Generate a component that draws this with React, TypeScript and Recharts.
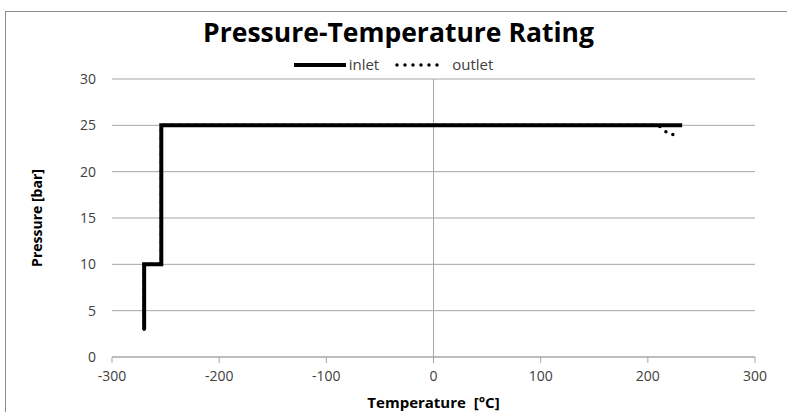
import React from 'react';
import { LineChart, Line, XAxis, YAxis, CartesianGrid, ReferenceLine, Legend } from 'recharts';

const inletTemp = [-270, -270, -254, -254, 232];
const inletPressure = [3, 10, 10, 25, 25];
const outletTemp = [-270, -270, -254, -254, 210, 220, 230];
const outletPressure = [3, 10, 10, 25, 25, 24, 24];
const xTicks = [-300, -200, -100, 0, 100, 200, 300];
const yTicks = [0, 5, 10, 15, 20, 25, 30];

const inlet = inletTemp.map((t, i) => ({ t, p: inletPressure[i] }));
const outlet = outletTemp.map((t, i) => ({ t, p: outletPressure[i] }));

const FONT = '"Open Sans", Calibri, sans-serif';

const LegendContent = () => (
  <div style={{ display: 'flex', justifyContent: 'center', alignItems: 'center', fontFamily: FONT, fontSize: 15, color: '#404040', height: 19, lineHeight: '19px' }}>
    <svg width={52} height={10} style={{ marginRight: 3 }}>
      <line x1={0} y1={5} x2={52} y2={5} stroke="#000" strokeWidth={4} />
    </svg>
    <span style={{ marginRight: 16 }}>inlet</span>
    <svg width={48} height={10} style={{ marginRight: 9 }}>
      <line x1={2} y1={5} x2={48} y2={5} stroke="#000" strokeWidth={3.5} strokeDasharray="0 8" strokeLinecap="round" />
    </svg>
    <span>outlet</span>
  </div>
);

export default function App() {
  return (
    <div style={{ position: 'absolute', left: 0, top: 0, width: 787, height: 412, background: '#fff', overflow: 'hidden' }}>
      <div style={{ position: 'absolute', left: 5, top: 11, width: 820, height: 440, border: '1px solid #8c8c8c' }} />
      <div style={{ position: 'absolute', left: 0, top: 14, width: 797, textAlign: 'center', fontFamily: FONT, fontWeight: 700, fontSize: 26.5, color: '#000', lineHeight: '36px' }}>
        Pressure-Temperature Rating
      </div>
      <div style={{ position: 'absolute', left: 0, top: 0 }}>
        <LineChart width={787} height={412} margin={{ top: 60, right: 32, bottom: 0, left: 12 }}>
          <CartesianGrid horizontal vertical={false} stroke="#a6a6a6" strokeWidth={1} />
          <XAxis
            type="number"
            dataKey="t"
            domain={[-300, 300]}
            ticks={xTicks}
            allowDataOverflow
            height={55}
            stroke="#a6a6a6"
            tickSize={6}
            tickMargin={8}
            tick={{ fill: '#404040', fontSize: 14, fontFamily: FONT }}
            label={{ value: 'Temperature\u00a0 [°C]', position: 'insideBottom', offset: 4, style: { fontFamily: FONT, fontWeight: 700, fontSize: 15, fill: '#000' } }}
          />
          <YAxis
            type="number"
            dataKey="p"
            domain={[0, 30]}
            ticks={yTicks}
            width={100}
            axisLine={false}
            tickLine={false}
            tickSize={6}
            tickMargin={10}
            tick={{ fill: '#404040', fontSize: 14, fontFamily: FONT }}
            label={{ value: 'Pressure [bar]', angle: -90, position: 'insideLeft', offset: 25, style: { textAnchor: 'middle', fontFamily: FONT, fontWeight: 700, fontSize: 14, fill: '#000' } }}
          />
          <ReferenceLine x={0} stroke="#a6a6a6" strokeWidth={1} />
          <Legend verticalAlign="top" content={<LegendContent />} wrapperStyle={{ top: 55, left: 0, width: 787 }} />
          <Line data={outlet} dataKey="p" name="outlet" type="linear" stroke="#000" strokeWidth={3.5} strokeDasharray="0 8" strokeLinecap="round" dot={false} isAnimationActive={false} />
          <Line data={inlet} dataKey="p" name="inlet" type="linear" stroke="#000" strokeWidth={4} strokeLinejoin="miter" dot={false} isAnimationActive={false} />
        </LineChart>
      </div>
    </div>
  );
}
